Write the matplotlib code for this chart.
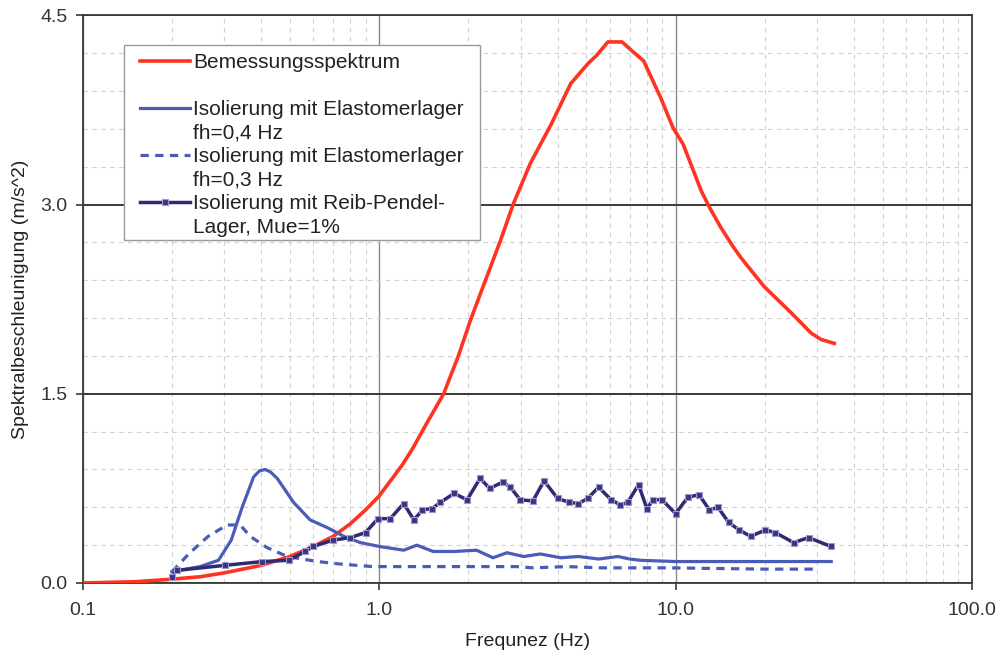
import numpy as np
import matplotlib.pyplot as plt
from matplotlib.lines import Line2D
from matplotlib.patches import Rectangle
from matplotlib.ticker import FixedLocator, LogLocator, MultipleLocator, NullFormatter

plt.rcParams['font.family'] = ['Liberation Sans', 'DejaVu Sans']

# Bemessungsspektrum
f_spektrum = [0.1, 0.15, 0.2, 0.25, 0.3, 0.4, 0.5, 0.6, 0.7, 0.8, 0.9, 1.0, 1.1, 1.2, 1.3,
              1.45, 1.65, 1.85, 2.03, 2.2, 2.37, 2.57, 2.84, 3.24, 3.81, 4.43, 5.07, 5.4,
              5.91, 6.6, 7.2, 7.8, 8.9, 9.8, 10.6, 12.2, 13.0, 14.2, 15.7, 16.6, 19.9, 24.6,
              28.7, 31.0, 34.3]
a_spektrum = [0.0, 0.01, 0.03, 0.05, 0.08, 0.14, 0.21, 0.29, 0.37, 0.47, 0.58, 0.69, 0.82,
              0.94, 1.07, 1.27, 1.50, 1.80, 2.08, 2.30, 2.50, 2.72, 3.01, 3.33, 3.64, 3.96,
              4.12, 4.18, 4.29, 4.29, 4.21, 4.14, 3.85, 3.61, 3.48, 3.11, 2.98, 2.82, 2.66,
              2.58, 2.35, 2.14, 1.98, 1.93, 1.90]

# Elastomerlager fh=0,4 Hz
f_elast04 = [0.2, 0.249, 0.287, 0.317, 0.345, 0.377, 0.395, 0.413, 0.43, 0.453, 0.514, 0.585,
             0.667, 0.76, 0.864, 1.0, 1.21, 1.34, 1.52, 1.8, 2.13, 2.42, 2.7, 3.07, 3.5, 4.1,
             4.7, 5.5, 6.4, 7.0, 7.6, 10.0, 15.0, 20.0, 33.5]
a_elast04 = [0.09, 0.13, 0.18, 0.34, 0.60, 0.84, 0.89, 0.90, 0.88, 0.83, 0.64, 0.50, 0.44,
             0.37, 0.32, 0.29, 0.26, 0.30, 0.25, 0.25, 0.26, 0.20, 0.24, 0.21, 0.23, 0.20,
             0.21, 0.19, 0.21, 0.19, 0.18, 0.17, 0.17, 0.17, 0.17]

# Elastomerlager fh=0,3 Hz
f_elast03 = [0.2, 0.23, 0.265, 0.307, 0.34, 0.367, 0.419, 0.49, 0.62, 0.74, 0.95, 1.34, 2.0,
             2.9, 3.3, 4.3, 5.6, 9.4, 20.0, 30.0]
a_elast03 = [0.09, 0.24, 0.37, 0.46, 0.46, 0.37, 0.28, 0.21, 0.17, 0.15, 0.13, 0.13, 0.13,
             0.13, 0.12, 0.13, 0.12, 0.12, 0.11, 0.11]

# Reib-Pendel-Lager, Mue=1%
f_reib = [0.2, 0.208, 0.302, 0.404, 0.495, 0.563, 0.6, 0.70, 0.80, 0.90, 0.99, 1.09, 1.21,
          1.31, 1.40, 1.51, 1.61, 1.79, 1.98, 2.19, 2.36, 2.61, 2.77, 2.99, 3.3, 3.6, 4.0,
          4.37, 4.7, 5.05, 5.5, 6.06, 6.5, 6.9, 7.5, 8.0, 8.4, 9.0, 10.0, 11.0, 12.0, 13.0,
          13.9, 15.1, 16.4, 17.9, 20.1, 21.7, 25.0, 28.1, 33.4]
a_reib = [0.05, 0.10, 0.14, 0.17, 0.18, 0.25, 0.29, 0.34, 0.36, 0.40, 0.51, 0.51, 0.63,
          0.50, 0.58, 0.59, 0.64, 0.71, 0.66, 0.83, 0.75, 0.80, 0.76, 0.66, 0.65, 0.81,
          0.67, 0.64, 0.63, 0.67, 0.76, 0.66, 0.62, 0.64, 0.78, 0.59, 0.66, 0.66, 0.55,
          0.68, 0.70, 0.58, 0.60, 0.48, 0.42, 0.37, 0.42, 0.40, 0.32, 0.36, 0.29]

x_ticks = [0.1, 1.0, 10.0, 100.0]
x_ticklabels = ['0.1', '1.0', '10.0', '100.0']
y_ticks = [0.0, 1.5, 3.0, 4.5]
y_ticklabels = ['0.0', '1.5', '3.0', '4.5']

legend_labels = ['Bemessungsspektrum', ' ',
                 'Isolierung mit Elastomerlager', 'fh=0,4 Hz',
                 'Isolierung mit Elastomerlager', 'fh=0,3 Hz',
                 'Isolierung mit Reib-Pendel-', 'Lager, Mue=1%']

c_red = '#ff3322'
c_blue = '#4a5cb8'
c_navy = '#2f2a72'
c_dark = '#3c3a30'
dash = (0, (2.6, 2.0))
reib_style = dict(color=c_navy, lw=2.5, marker='s', ms=4.5, mfc='#3b3580',
                  mec='#9a9ad0', mew=0.8)

fig = plt.figure(figsize=(9.99, 6.58), dpi=100)
ax = fig.add_axes([0.0828, 0.114, 0.8902, 0.8625])

ax.plot(f_spektrum, a_spektrum, color=c_red, lw=2.6, zorder=3)
ax.plot(f_elast04, a_elast04, color=c_blue, lw=2.3, zorder=3)
ax.plot(f_elast03, a_elast03, color=c_blue, lw=2.3, ls=dash, zorder=3)
ax.plot(f_reib, a_reib, zorder=3, **reib_style)

ax.set_xscale('log')
ax.set_xlim(0.1, 100)
ax.set_ylim(0, 4.5)
ax.xaxis.set_major_locator(FixedLocator(x_ticks))
ax.set_xticklabels(x_ticklabels)
ax.xaxis.set_minor_locator(LogLocator(base=10, subs=np.arange(2, 10)))
ax.xaxis.set_minor_formatter(NullFormatter())
ax.yaxis.set_major_locator(FixedLocator(y_ticks))
ax.set_yticklabels(y_ticklabels)
ax.yaxis.set_minor_locator(MultipleLocator(0.3))

ax.set_axisbelow(True)
ax.grid(True, which='minor', color='#d0d0d0', lw=0.8, ls=(0, (4, 4)))
ax.xaxis.grid(True, which='major', color='#8a8a8a', lw=1.0)
ax.yaxis.grid(True, which='major', color=c_dark, lw=1.4)

for s in ax.spines.values():
    s.set_color(c_dark)
    s.set_linewidth(1.3)

ax.tick_params(which='major', direction='out', length=5, width=1.2, color=c_dark,
               labelsize=14, labelcolor='#333333')
ax.tick_params(axis='x', which='major', pad=9)
ax.tick_params(axis='y', which='major', pad=6)
ax.tick_params(which='minor', length=0)

ax.set_xlabel('Frequnez (Hz)', fontsize=14, color='#222222', labelpad=10)
ax.set_ylabel('Spektralbeschleunigung (m/s^2)', fontsize=14, color='#222222', labelpad=8)

# legend frame and entries
ax.add_patch(Rectangle((0.0464, 0.6044), 0.4003, 0.3436, transform=ax.transAxes,
                       facecolor='white', edgecolor='#9a9a9a', lw=1.0, zorder=4))
blank = Line2D([], [], color='none')
handles = [Line2D([], [], color=c_red, lw=2.6), blank,
           Line2D([], [], color=c_blue, lw=2.3), blank,
           Line2D([], [], color=c_blue, lw=2.3, ls=dash), blank,
           Line2D([], [], **reib_style), blank]
leg = ax.legend(handles, legend_labels,
                loc='upper left', bbox_to_anchor=(0.0644, 0.934), borderaxespad=0,
                borderpad=0, frameon=False, fontsize=15, labelspacing=0.22,
                handlelength=2.4, handletextpad=0.15, labelcolor='#222222')
leg.set_zorder(5)

fig.savefig('out.png', dpi=100)
